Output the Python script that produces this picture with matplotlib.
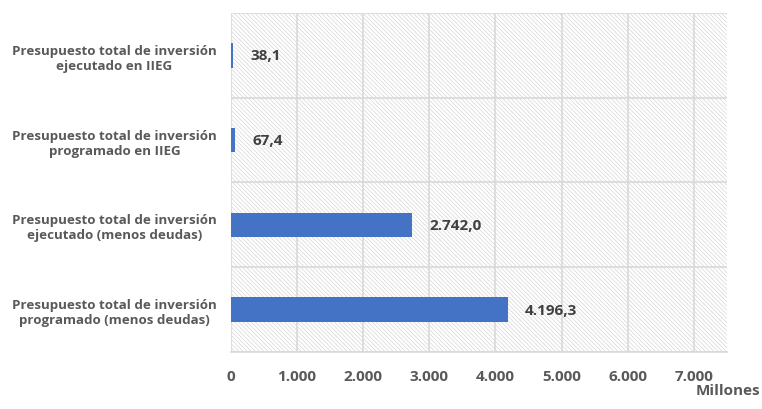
import matplotlib
matplotlib.use('Agg')
import matplotlib.pyplot as plt
from matplotlib.ticker import FuncFormatter, MultipleLocator, FixedLocator

# --- Data (Millones) ---
categories = [
    'Presupuesto total de inversión\nprogramado (menos deudas)',
    'Presupuesto total de inversión\nejecutado (menos deudas)',
    'Presupuesto total de inversión\nprogramado en IIEG',
    'Presupuesto total de inversión\nejecutado en IIEG',
]
values = [4196.3, 2742.0, 67.4, 38.1]
value_labels = ['4.196,3', '2.742,0', '67,4', '38,1']

BAR_COLOR  = '#4472C4'
GRID_COLOR = '#d9d9d9'
TEXT_DARK  = '#404040'
TEXT_MID   = '#595959'

plt.rcParams['font.family'] = ['Open Sans', 'DejaVu Sans']
plt.rcParams['hatch.linewidth'] = 0.5
plt.rcParams['hatch.color'] = '#d6d6d6'

fig = plt.figure(figsize=(7.62, 4.10), dpi=100)
fig.patch.set_facecolor('white')
ax = fig.add_axes([0.303, 0.139, 0.651, 0.827])

# Hatched plot background
ax.patch.set_facecolor('white')
ax.patch.set_hatch('\\' * 8)
ax.patch.set_edgecolor('#d6d6d6')
ax.patch.set_linewidth(0)

y = list(range(len(categories)))
ax.barh(y, values, height=0.29, color=BAR_COLOR, zorder=3)

for yi, v, lab in zip(y, values, value_labels):
    ax.annotate(lab, xy=(v, yi), xytext=(12, 0), textcoords='offset points',
                va='center', ha='left', fontsize=11, fontweight='bold',
                color=TEXT_DARK, zorder=4)

ax.set_xlim(0, 7500)
ax.set_ylim(-0.5, len(categories) - 0.5)

ax.xaxis.set_major_locator(FixedLocator([0, 1000, 2000, 3000, 4000, 5000, 6000, 7000]))
ax.xaxis.set_major_formatter(FuncFormatter(lambda x, _: f'{x:,.0f}'.replace(',', '.')))
ax.set_yticks(y)
ax.set_yticklabels(categories)
ax.yaxis.set_minor_locator(MultipleLocator(1, offset=0.5))

ax.grid(True, axis='x', which='major', color=GRID_COLOR, linewidth=1.2, zorder=1)
ax.grid(True, axis='y', which='minor', color=GRID_COLOR, linewidth=1.2, zorder=1)
ax.set_axisbelow(True)

for spine in ['top', 'right', 'left']:
    ax.spines[spine].set_visible(False)
ax.spines['bottom'].set_color(GRID_COLOR)
ax.spines['bottom'].set_linewidth(1.2)

ax.tick_params(axis='x', length=0, pad=12, labelsize=11, labelcolor=TEXT_MID)
ax.tick_params(axis='y', which='both', length=0, pad=10, labelsize=9.6, labelcolor=TEXT_MID)
for t in ax.get_xticklabels():
    t.set_fontweight('bold')
for t in ax.get_yticklabels():
    t.set_fontweight('bold')
    t.set_multialignment('center')

fig.text(0.998, 1 - 391 / 410, 'Millones', ha='right', va='center',
         fontsize=11, fontweight='bold', color=TEXT_MID)

fig.savefig('out.png', dpi=100, facecolor='white')
plt.close(fig)
